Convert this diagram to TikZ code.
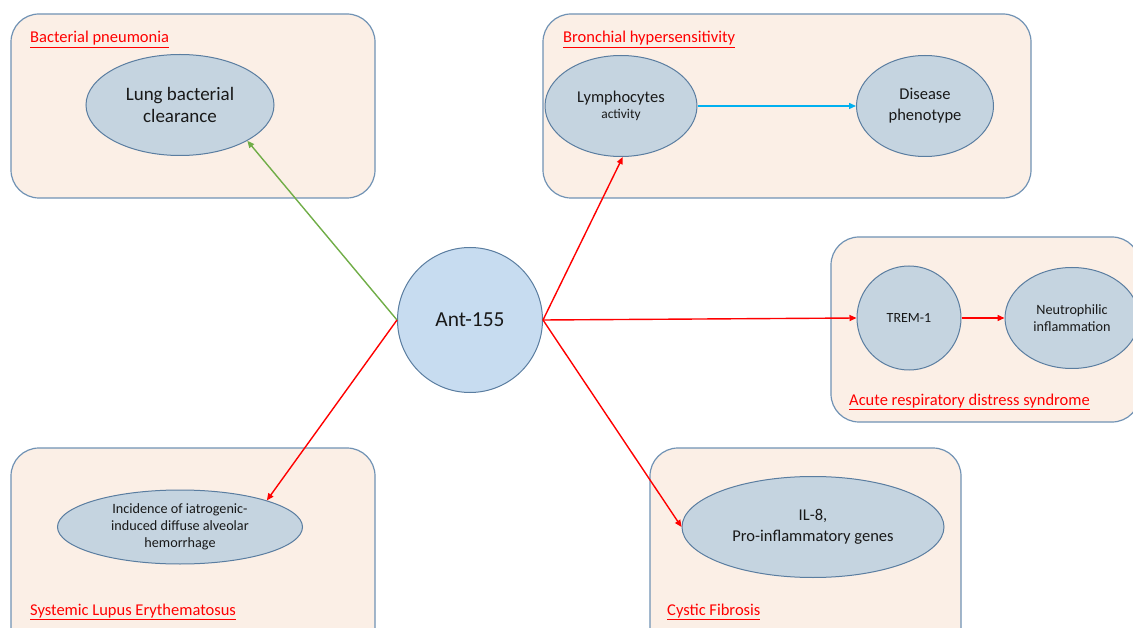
\documentclass[tikz,border=0pt]{standalone}
\usepackage{fontspec}
\setmainfont{Carlito}
\usetikzlibrary{shapes.geometric,arrows.meta}
\definecolor{boxfill}{HTML}{FBEFE6}
\definecolor{boxline}{HTML}{7092B4}
\definecolor{ovalfill}{HTML}{C5D4E0}
\definecolor{ovalline}{HTML}{5A7DA0}
\definecolor{antfill}{HTML}{C7DCF0}
\definecolor{arrowred}{HTML}{FF0000}
\definecolor{arrowgreen}{HTML}{70AD47}
\definecolor{arrowblue}{HTML}{00B0F0}

\begin{document}
\begin{tikzpicture}[x=1pt,y=-1pt,
	panel/.style={draw=boxline,fill=boxfill,line width=1.2pt,rounded corners=28pt},
	oval/.style={ellipse,draw=ovalline,fill=ovalfill,line width=1pt,inner sep=0pt,align=center,text=black!90},
	title/.style={anchor=base west,inner sep=0pt,text=arrowred,font=\fontsize{16.5}{19}\selectfont},
	link/.style={line width=1.4pt,-{Triangle[length=7pt,width=6pt]}}]

	\useasboundingbox (0,0) rectangle (1133,628);

	% disease panels
	\draw[panel] (11,14) rectangle (375,198);
	\draw[panel] (543,14) rectangle (1031,198);
	\draw[panel] (831,237) rectangle (1140,422);
	\draw[panel] (11,448) rectangle (375,660);
	\draw[panel] (650,448) rectangle (961,660);

	\node[title] (bp) at (30,43) {\underline{Bacterial pneumonia}};
	\node[title] (bh) at (563,43) {\underline{Bronchial hypersensitivity}};
	\node[title] (ards) at (849,405) {\underline{Acute respiratory distress syndrome}};
	\node[title] (sle) at (30,615) {\underline{Systemic Lupus Erythematosus}};
	\node[title] (cf) at (667,615) {\underline{Cystic Fibrosis}};

	% effects
	\node[oval,minimum width=188pt,minimum height=101pt,font=\fontsize{19}{22}\selectfont] (lung) at (180,105) {Lung bacterial\\clearance};
	\node[oval,minimum width=152pt,minimum height=101pt,font=\fontsize{16.5}{16}\selectfont] (lymph) at (621,106) {Lymphocytes\\{\fontsize{13.4}{14}\selectfont activity}};
	\node[oval,minimum width=137pt,minimum height=101pt,font=\fontsize{16.5}{21}\selectfont] (pheno) at (925,106) {Disease\\phenotype};
	\node[oval,circle,minimum size=104pt,font=\fontsize{14}{17}\selectfont] (trem) at (909,318) {TREM-1};
	\node[oval,minimum width=134pt,minimum height=101pt,font=\fontsize{14.2}{17}\selectfont] (neutro) at (1072,318) {Neutrophilic\\inflammation};
	\node[oval,minimum width=245pt,minimum height=74pt,font=\fontsize{14.2}{17}\selectfont] (dah) at (180,527) {Incidence of iatrogenic-\\induced diffuse alveolar\\hemorrhage};
	\node[oval,minimum width=262pt,minimum height=101pt,font=\fontsize{16.5}{21}\selectfont] (il8) at (813,527) {IL-8,\\Pro-inflammatory genes};

	% antagomir
	\node[circle,draw=ovalline,fill=antfill,line width=1pt,minimum size=145pt,inner sep=0pt,text=black!90,font=\fontsize{21.4}{26}\selectfont] (ant) at (470,320) {Ant-155};

	\draw[link,arrowgreen] (ant.west) -- (lung.-28);
	\draw[link,arrowred] (ant.west) -- (dah.17);
	\draw[link,arrowred] (ant.east) -- (lymph.-88);
	\draw[link,arrowred] (ant.east) -- (trem.west);
	\draw[link,arrowred] (ant.east) -- (il8.west);
	\draw[link,arrowred] (trem.east) -- (neutro.west);
	\draw[link,arrowblue] (lymph.east) -- (pheno.west);

\end{tikzpicture}
\end{document}
